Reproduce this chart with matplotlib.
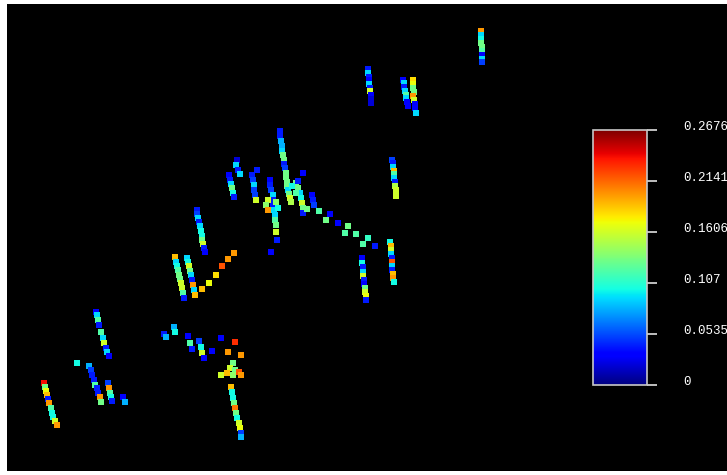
import matplotlib
matplotlib.use("Agg")
import matplotlib.pyplot as plt
import numpy as np

# point clusters: (x, y, value), x/y in screen units of the original view
top_col = [(481, 31, 0.20), (481, 35, 0.09), (481, 39, 0.10), (481, 43, 0.13), (482, 47, 0.13),
           (482, 51, 0.12), (482, 55, 0.03), (482, 59, 0.09), (482, 62, 0.05)]
col_b = [(368, 69, 0.04), (368, 73, 0.09), (369, 77, 0.04), (369, 80, 0.03), (369, 84, 0.09),
         (370, 88, 0.04), (370, 91, 0.16), (371, 95, 0.03), (371, 99, 0.02), (371, 103, 0.02)]
col_c1 = [(403, 80, 0.03), (404, 83, 0.09), (404, 87, 0.04), (405, 91, 0.09), (406, 95, 0.12),
          (406, 98, 0.09), (407, 102, 0.03), (408, 106, 0.03)]
col_c2 = [(413, 80, 0.18), (413, 84, 0.17), (413, 88, 0.13), (414, 92, 0.13), (413, 96, 0.20),
          (414, 100, 0.16), (415, 104, 0.03), (415, 108, 0.03), (416, 113, 0.09)]
col_d = [(392, 160, 0.05), (393, 163, 0.04), (393, 167, 0.09), (394, 171, 0.19), (394, 174, 0.12),
         (394, 178, 0.09), (395, 182, 0.04), (395, 186, 0.15), (396, 190, 0.16), (396, 196, 0.16)]
col_e = [(390, 242, 0.10), (391, 246, 0.19), (391, 250, 0.16), (391, 254, 0.09), (392, 258, 0.04),
         (392, 262, 0.22), (392, 266, 0.09), (392, 270, 0.04), (393, 274, 0.19), (393, 278, 0.20),
         (394, 282, 0.10)]
col_f = [(362, 258, 0.03), (362, 263, 0.10), (363, 267, 0.04), (363, 272, 0.09), (363, 276, 0.16),
         (364, 280, 0.04), (364, 284, 0.03), (365, 288, 0.13), (365, 292, 0.16), (366, 296, 0.17),
         (366, 300, 0.04)]
chain = [(319, 211, 0.12), (330, 214, 0.03), (326, 220, 0.13), (338, 223, 0.03), (348, 226, 0.13),
         (345, 233, 0.12), (356, 234, 0.12), (368, 238, 0.11), (363, 244, 0.12), (375, 246, 0.04),
         (271, 252, 0.03)]
center = [(280, 131, 0.04), (280, 136, 0.04), (281, 141, 0.08), (282, 146, 0.08), (282, 151, 0.09),
          (283, 155, 0.13), (284, 160, 0.13), (284, 164, 0.04), (285, 168, 0.05), (286, 173, 0.13),
          (286, 177, 0.13), (287, 182, 0.13), (237, 160, 0.02), (236, 165, 0.09), (238, 170, 0.04),
          (240, 174, 0.09), (229, 175, 0.03), (230, 180, 0.04), (231, 184, 0.09), (232, 188, 0.13),
          (233, 193, 0.10), (234, 197, 0.04), (257, 170, 0.04), (252, 175, 0.04), (253, 180, 0.05),
          (254, 185, 0.09), (254, 190, 0.05), (255, 195, 0.05), (256, 200, 0.16), (270, 180, 0.03),
          (270, 185, 0.04), (271, 190, 0.05), (273, 195, 0.09), (273, 200, 0.04), (273, 205, 0.04),
          (274, 210, 0.09), (275, 215, 0.09), (275, 220, 0.12), (276, 225, 0.13), (276, 232, 0.16),
          (277, 240, 0.04), (268, 200, 0.16), (266, 205, 0.14), (268, 210, 0.20), (287, 186, 0.13),
          (288, 190, 0.09), (289, 194, 0.13), (290, 198, 0.16), (291, 202, 0.15), (296, 183, 0.13),
          (298, 188, 0.13), (300, 193, 0.09), (301, 198, 0.10), (302, 203, 0.16), (303, 208, 0.13),
          (303, 213, 0.04), (303, 173, 0.03), (298, 181, 0.04), (312, 195, 0.03), (313, 200, 0.04),
          (314, 205, 0.05), (307, 209, 0.13), (296, 193, 0.12), (292, 186, 0.10), (276, 202, 0.14),
          (278, 208, 0.10)]
col_g = [(197, 210, 0.04), (197, 214, 0.05), (198, 218, 0.09), (199, 222, 0.04), (200, 226, 0.09),
         (201, 231, 0.10), (202, 236, 0.10), (202, 240, 0.13), (203, 244, 0.16), (204, 248, 0.04),
         (205, 252, 0.03)]
col_h1 = [(175, 257, 0.19), (176, 262, 0.09), (177, 266, 0.10), (178, 270, 0.12), (179, 275, 0.13),
          (180, 279, 0.13), (181, 283, 0.16), (182, 288, 0.16), (183, 293, 0.12), (184, 298, 0.04)]
col_h2 = [(187, 258, 0.09), (188, 262, 0.10), (189, 266, 0.16), (190, 271, 0.13), (191, 275, 0.09),
          (192, 280, 0.04), (193, 285, 0.20), (194, 290, 0.09), (195, 295, 0.19)]
orange_chain = [(234, 253, 0.20), (228, 259, 0.20), (222, 266, 0.22), (216, 275, 0.18),
                (209, 283, 0.17), (202, 289, 0.19)]
mid_low = [(164, 334, 0.04), (166, 337, 0.08), (174, 327, 0.08), (175, 332, 0.10), (188, 336, 0.03),
           (190, 343, 0.12), (192, 349, 0.04), (199, 341, 0.05), (201, 347, 0.10), (202, 353, 0.16),
           (204, 358, 0.03), (212, 351, 0.03), (221, 338, 0.03), (235, 342, 0.23), (228, 352, 0.20),
           (241, 355, 0.20), (221, 375, 0.16)]
col_i = [(233, 363, 0.13), (230, 368, 0.16), (235, 370, 0.13), (227, 373, 0.19), (233, 375, 0.14),
         (239, 372, 0.22), (241, 375, 0.20), (231, 387, 0.19), (232, 392, 0.10), (233, 398, 0.10),
         (234, 403, 0.13), (235, 408, 0.21), (236, 413, 0.13), (237, 418, 0.10), (239, 423, 0.16),
         (240, 428, 0.17), (241, 433, 0.05), (241, 437, 0.08)]
col_j = [(96, 312, 0.03), (97, 315, 0.09), (98, 320, 0.12), (99, 325, 0.04), (101, 332, 0.12),
         (103, 338, 0.09), (104, 343, 0.16), (106, 348, 0.04), (107, 352, 0.09), (109, 356, 0.03),
         (77, 363, 0.10)]
col_k = [(89, 366, 0.08), (91, 370, 0.05), (92, 375, 0.04), (94, 380, 0.04), (95, 385, 0.12),
         (97, 388, 0.04), (98, 393, 0.04), (100, 397, 0.20), (101, 402, 0.13)]
col_l = [(108, 383, 0.05), (109, 388, 0.20), (110, 393, 0.12), (111, 397, 0.10), (112, 401, 0.04),
         (123, 397, 0.03), (125, 402, 0.08)]
col_m = [(44, 383, 0.24), (45, 387, 0.13), (46, 391, 0.17), (47, 395, 0.19), (48, 399, 0.04),
         (49, 403, 0.20), (51, 408, 0.12), (52, 413, 0.10), (53, 417, 0.10), (55, 421, 0.16),
         (57, 425, 0.20)]

vmax = 0.2676
tick_vals = [0, 0.0535, 0.107, 0.1606, 0.2141, 0.2676]
tick_labels = ["0", "0.0535", "0.107", "0.1606", "0.2141", "0.2676"]

clusters = [top_col, col_b, col_c1, col_c2, col_d, col_e, col_f, chain, center, col_g,
            col_h1, col_h2, orange_chain, mid_low, col_i, col_j, col_k, col_l, col_m]
pts = np.array([p for c in clusters for p in c])

W, H = 727, 475
fig = plt.figure(figsize=(W / 100, H / 100), dpi=100)
fig.patch.set_facecolor("white")
ax = fig.add_axes([7 / W, 4 / H, 1 - 7 / W, 467 / H])
ax.set_facecolor("black")
sc = ax.scatter(pts[:, 0], pts[:, 1], c=pts[:, 2], cmap="jet", vmin=0, vmax=vmax,
                marker="s", s=17, linewidths=0)
ax.set_xlim(7, 727)
ax.set_ylim(471, 4)
ax.set_xticks([]); ax.set_yticks([])
for s in ax.spines.values():
    s.set_visible(False)

cax = fig.add_axes([593 / W, (H - 385) / H, 54 / W, 255 / H])
cb = fig.colorbar(sc, cax=cax)
cb.outline.set_edgecolor("#c8c8c8")
cb.outline.set_linewidth(1.2)
cb.set_ticks(tick_vals)
cb.set_ticklabels(tick_labels)
cax.tick_params(colors="#e0e0e0", length=7, width=1.2, pad=19, labelsize=9)
for t in cax.get_yticklabels():
    t.set_fontfamily("Liberation Mono")
    t.set_color("white")
    t.set_verticalalignment("baseline")

fig.savefig("out.png", dpi=100, facecolor=fig.get_facecolor())
